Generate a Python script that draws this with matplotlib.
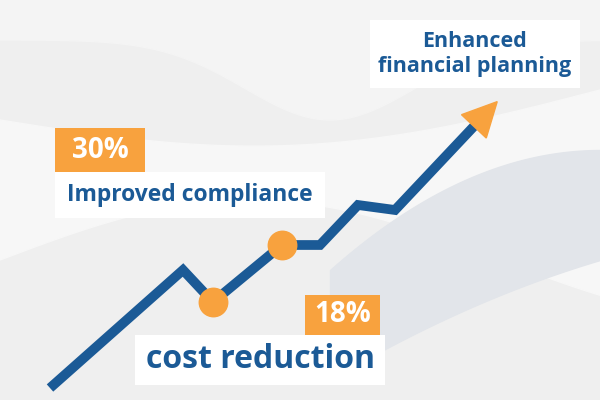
import numpy as np
import matplotlib.pyplot as plt
from matplotlib.patches import Rectangle, Polygon

# line path (pixel coords of the picture)
line_x = [50, 183, 213, 282, 320, 358, 395, 478]
line_y = [388, 270, 302, 245, 245, 205, 210, 122]
dots_x = [213, 282]
dots_y = [302, 245]

labels = [
    # text, x0, y0, x1, y1, face, text colour, size
    ("Enhanced\nfinancial planning", 370, 20, 580, 88, "white", "#1b5a96", 15.5),
    ("30%", 55, 128, 145, 172, "#f8a23e", "white", 20),
    ("Improved compliance", 55, 172, 325, 218, "white", "#1b5a96", 16.5),
    ("18%", 305, 295, 380, 335, "#f8a23e", "white", 20),
    ("cost reduction", 135, 335, 385, 385, "white", "#1b5a96", 23),
]

fig = plt.figure(figsize=(6, 4), dpi=100)
ax = fig.add_axes([0, 0, 1, 1])
ax.set_xlim(0, 600)
ax.set_ylim(400, 0)
ax.axis("off")
fig.patch.set_facecolor("#efefef")

# background swooshes
xs = np.linspace(0, 600, 200)
top = 120 + 40 * np.sin(xs / 600 * np.pi) - 30 * xs / 600
bot = 260 - 60 * np.sin(xs / 600 * np.pi * 1.2)
ax.fill_between(xs, top, bot, color="#f7f7f7", zorder=0)
xs2 = np.linspace(330, 600, 150)
t = (xs2 - 330) / 270
ax.fill_between(xs2, 150 + 120 * (1 - t) ** 2, 300 - 40 * t ** 2 + 80 * (1 - t) ** 2,
                color="#e2e5ea", zorder=0)
ax.fill_between(xs, 0, 40 + 80 * np.exp(-((xs - 330) / 120) ** 2),
                color="#f4f4f4", zorder=0)

ax.plot(line_x, line_y, color="#1b5a96", lw=7, solid_capstyle="butt",
        solid_joinstyle="miter", zorder=2)

# arrow head at the end of the line
end = np.array([line_x[-1], line_y[-1]], float)
prev = np.array([line_x[-2], line_y[-2]], float)
d = (end - prev) / np.linalg.norm(end - prev)
n = np.array([-d[1], d[0]])
base = end - d * 6
head = [base + n * 17, base - n * 17, base + d * 34]
ax.add_patch(Polygon(head, closed=True, color="#f8a23e", zorder=3))
ax.scatter(dots_x, dots_y, s=420, color="#f8a23e", zorder=4)

for text, x0, y0, x1, y1, face, tc, size in labels:
    ax.add_patch(Rectangle((x0, y0), x1 - x0, y1 - y0, facecolor=face,
                           edgecolor="none", zorder=5))
    ax.text((x0 + x1) / 2, (y0 + y1) / 2, text, ha="center", va="center",
            color=tc, fontsize=size, fontweight="bold", family="Open Sans",
            linespacing=1.3, zorder=6)

fig.savefig("out.png", dpi=100)
